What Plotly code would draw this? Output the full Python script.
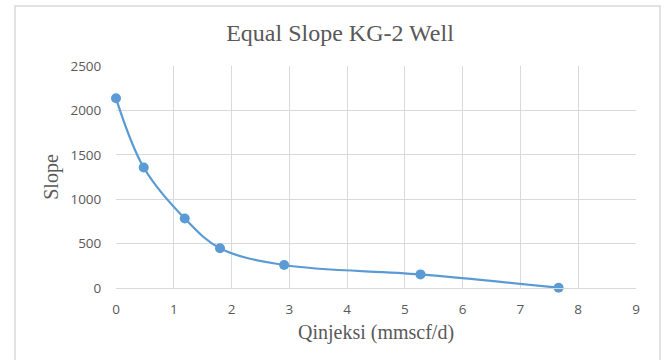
import plotly.graph_objects as go

qinj = [0, 0.48, 1.19, 1.80, 2.91, 5.27, 7.66]
slope = [2136, 1357, 783, 447, 259, 153, 3]

x_ticks = list(range(0, 10))
y_ticks = [0, 500, 1000, 1500, 2000, 2500]

W, H = 664, 360
L, R, T, B = 116, 28, 66, 72
pw, ph = W - L - R, H - T - B

fig = go.Figure()
fig.add_trace(go.Scatter(
    x=qinj, y=slope, mode="lines+markers",
    line=dict(color="#5b9bd5", width=2.25, shape="spline", smoothing=1.0),
    marker=dict(color="#5b9bd5", size=10),
    cliponaxis=False,
    showlegend=False,
))

tickfont = dict(family="Open Sans, Liberation Sans, sans-serif", size=13.5, color="#595959")
titlefont = dict(family="Liberation Serif, Times New Roman, serif", color="#595959")

fig.update_layout(
    width=W, height=H,
    margin=dict(l=L, r=R, t=T, b=B),
    paper_bgcolor="white", plot_bgcolor="white",
    title=dict(text="Equal Slope KG-2 Well", x=340 / W, xref="container", xanchor="center",
               y=1 - 33 / H, yref="container", yanchor="middle",
               font=dict(size=24, **titlefont)),
    xaxis=dict(range=[0, 9], tickvals=x_ticks, showgrid=True, gridcolor="#d9d9d9", gridwidth=1,
               zeroline=False, showline=True, linecolor="#d9d9d9", linewidth=1,
               ticks="outside", ticklen=9, tickcolor="rgba(0,0,0,0)", tickfont=tickfont,
               title=dict(text="Qinjeksi (mmscf/d)", font=dict(size=20, **titlefont), standoff=7)),
    yaxis=dict(range=[0, 2500], tickvals=y_ticks, showgrid=True, gridcolor="#d9d9d9", gridwidth=1,
               zeroline=False, showline=False,
               ticks="outside", ticklen=11, tickcolor="rgba(0,0,0,0)", tickfont=tickfont,
               title=dict(text="Slope", font=dict(size=20, **titlefont), standoff=6)),
    shapes=[dict(type="rect", xref="paper", yref="paper",
                 x0=(15 - L) / pw, x1=(660 - L) / pw,
                 y0=(H - T - 370) / ph, y1=(H - B - 6) / ph,
                 line=dict(color="#d9d9d9", width=1.5), fillcolor="rgba(0,0,0,0)", layer="below")],
)

fig.write_html("out.html")
